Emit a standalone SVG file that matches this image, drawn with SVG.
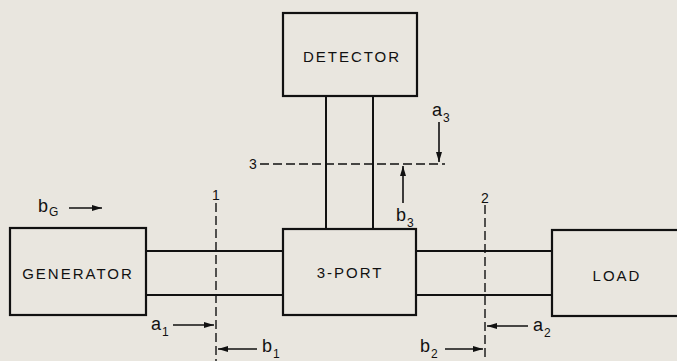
<svg xmlns="http://www.w3.org/2000/svg" width="677" height="361" viewBox="0 0 677 361">
<style>
.box{fill:none;stroke:#111;stroke-width:2.2}
.ln{stroke:#111;stroke-width:2;fill:none}
.dash{stroke:#111;stroke-width:1.4;stroke-dasharray:9,4;fill:none}
.arr{stroke:#111;stroke-width:1.6;fill:none;marker-end:url(#ah)}
.lbl{font-family:"Liberation Sans","DejaVu Sans",sans-serif;font-size:15px;fill:#111;letter-spacing:2px;text-anchor:middle}
.var{font-family:"Liberation Sans","DejaVu Sans",sans-serif;font-size:18px;fill:#111}
.sub{font-family:"Liberation Sans","DejaVu Sans",sans-serif;font-size:12px;fill:#111}
.num{font-family:"Liberation Sans","DejaVu Sans",sans-serif;font-size:14px;fill:#111;text-anchor:middle}
</style>
<defs>
<marker id="ah" viewBox="0 0 10 6" refX="10" refY="3" markerWidth="10" markerHeight="6" markerUnits="userSpaceOnUse" orient="auto">
<path d="M0,0 L10,3 L0,6 z" fill="#111"/>
</marker>
</defs>
<rect width="677" height="361" fill="#e9e6df"/>
<g id="connectors">
<line class="ln" x1="146" y1="251" x2="283" y2="251"/>
<line class="ln" x1="146" y1="295" x2="283" y2="295"/>
<line class="ln" x1="416" y1="251" x2="552" y2="251"/>
<line class="ln" x1="416" y1="295" x2="552" y2="295"/>
<line class="ln" x1="326" y1="96" x2="326" y2="229"/>
<line class="ln" x1="373" y1="96" x2="373" y2="229"/>
</g>
<g id="ref-planes">
<line class="dash" x1="216" y1="203" x2="216" y2="361"/>
<text class="num" x="216" y="200">1</text>
<line class="dash" x1="485" y1="205" x2="485" y2="361"/>
<text class="num" x="485" y="203">2</text>
<line class="dash" x1="260" y1="164" x2="445" y2="164"/>
<text class="num" x="253" y="169">3</text>
</g>
<g id="waves">
<line class="arr" x1="69" y1="208" x2="102" y2="208"/>
<text class="var" x="38" y="212">b</text><text class="sub" x="49" y="216">G</text>
<line class="arr" x1="173" y1="325" x2="214" y2="325"/>
<text class="var" x="151" y="330">a</text><text class="sub" x="162" y="336">1</text>
<line class="arr" x1="257" y1="349" x2="218" y2="349"/>
<text class="var" x="262" y="352">b</text><text class="sub" x="273" y="358">1</text>
<line class="arr" x1="528" y1="326" x2="487" y2="326"/>
<text class="var" x="533" y="331">a</text><text class="sub" x="544" y="337">2</text>
<line class="arr" x1="445" y1="349" x2="483" y2="349"/>
<text class="var" x="420" y="352">b</text><text class="sub" x="431" y="358">2</text>
<line class="arr" x1="439" y1="122" x2="439" y2="162"/>
<text class="var" x="432" y="116">a</text><text class="sub" x="443" y="122">3</text>
<line class="arr" x1="403" y1="203" x2="403" y2="166"/>
<text class="var" x="396" y="221">b</text><text class="sub" x="407" y="227">3</text>
</g>
<g id="generator">
<rect class="box" x="10" y="228" width="136" height="87"/>
<text class="lbl" x="78" y="279">GENERATOR</text>
</g>
<g id="detector">
<rect class="box" x="283" y="13" width="134" height="83"/>
<text class="lbl" x="352" y="62">DETECTOR</text>
</g>
<g id="threeport">
<rect class="box" x="283" y="229" width="133" height="86"/>
<text class="lbl" x="350" y="278">3-PORT</text>
</g>
<g id="load">
<rect class="box" x="552" y="230" width="140" height="86"/>
<text class="lbl" x="617" y="281">LOAD</text>
</g>
</svg>
